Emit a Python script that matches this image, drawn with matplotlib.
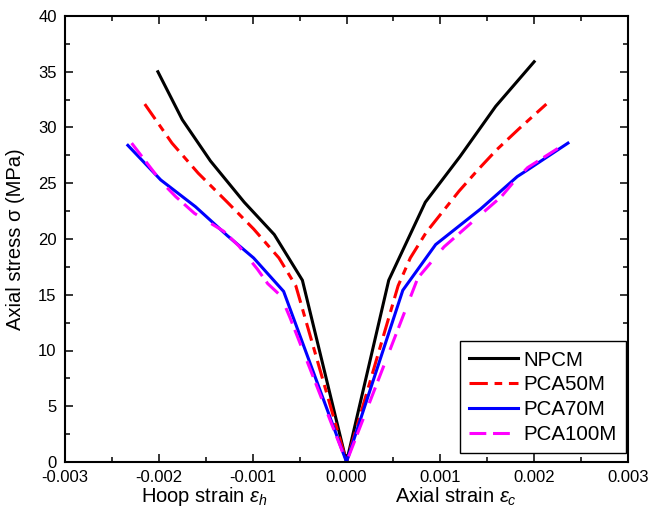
import matplotlib
matplotlib.use("Agg")
import matplotlib.pyplot as plt
from matplotlib.ticker import MultipleLocator, FixedFormatter, FixedLocator

plt.rcParams['font.family'] = ['Liberation Sans', 'DejaVu Sans']
plt.rcParams['mathtext.fontset'] = 'custom'
plt.rcParams['mathtext.rm'] = 'Liberation Sans'
plt.rcParams['mathtext.it'] = 'Liberation Sans:italic'

series = ['NPCM', 'PCA50M', 'PCA70M', 'PCA100M']
colors = ['black', 'red', 'blue', 'magenta']

# hoop strain (left branch) and axial strain (right branch), stress in MPa
npcm_hoop_strain = [-0.00201, -0.00175, -0.00145, -0.00109, -0.00077, -0.00047, 0.0]
npcm_hoop_stress = [35.0, 30.7, 27.0, 23.3, 20.4, 16.3, 0.0]
npcm_axial_strain = [0.0, 0.00045, 0.00084, 0.00121, 0.00159, 0.0020]
npcm_axial_stress = [0.0, 16.3, 23.3, 27.4, 31.9, 35.9]

p50_hoop_strain = [-0.00215, -0.00186, -0.00158, -0.00127, -0.00099, -0.00072, -0.00054, 0.0]
p50_hoop_stress = [32.1, 28.6, 25.9, 23.3, 20.9, 18.3, 15.8, 0.0]
p50_axial_strain = [0.0, 0.00055, 0.00068, 0.00085, 0.00102, 0.0012, 0.0014, 0.0016, 0.00184, 0.00213]
p50_axial_stress = [0.0, 15.8, 18.3, 20.6, 22.4, 24.3, 26.2, 28.0, 29.9, 32.1]

p70_hoop_strain = [-0.00233, -0.00198, -0.00161, -0.00127, -0.00099, -0.00067, 0.0]
p70_hoop_stress = [28.4, 25.3, 22.9, 20.3, 18.3, 15.3, 0.0]
p70_axial_strain = [0.0, 0.0006, 0.00095, 0.00143, 0.00182, 0.00193, 0.00236]
p70_axial_stress = [0.0, 15.4, 19.5, 22.7, 25.6, 26.2, 28.6]

p100_hoop_strain = [-0.00229, -0.00197, -0.00182, -0.00162, -0.00131, -0.00115, -0.00095, -0.00084, -0.0007, -0.0006, 0.0]
p100_hoop_stress = [28.6, 25.1, 23.8, 22.3, 20.7, 19.4, 17.3, 16.0, 14.9, 12.9, 0.0]
p100_axial_strain = [0.0, 0.00076, 0.00104, 0.00131, 0.00165, 0.00178, 0.00193, 0.00236]
p100_axial_stress = [0.0, 16.5, 19.3, 21.3, 23.8, 25.1, 26.4, 28.7]

hoop_x = [npcm_hoop_strain, p50_hoop_strain, p70_hoop_strain, p100_hoop_strain]
hoop_y = [npcm_hoop_stress, p50_hoop_stress, p70_hoop_stress, p100_hoop_stress]
ax_x = [npcm_axial_strain, p50_axial_strain, p70_axial_strain, p100_axial_strain]
ax_y = [npcm_axial_stress, p50_axial_stress, p70_axial_stress, p100_axial_stress]

xticks = [-0.003, -0.002, -0.001, 0.0, 0.001, 0.002, 0.003]
xticklabels = ['-0.003', '-0.002', '-0.001', '0.000', '0.001', '0.002', '0.003']
yticks = [0, 5, 10, 15, 20, 25, 30, 35, 40]

fig = plt.figure(figsize=(6.48, 5.17), dpi=100)
ax = fig.add_axes([65/648, 1-462/517, (628-65)/648, (462-16)/517])

dash_styles = ['-', (0, (6, 2.2, 2.5, 2.2)), '-', (0, (5.5, 2.2, 5.5, 5.5))]
for i, name in enumerate(series):
    xs = list(hoop_x[i]) + list(ax_x[i][1:])
    ys = list(hoop_y[i]) + list(ax_y[i][1:])
    ax.plot(xs, ys, color=colors[i], lw=2.2, linestyle=dash_styles[i], label=name,
            solid_joinstyle='miter')

ax.set_xlim(-0.003, 0.003)
ax.set_ylim(0, 40)
ax.xaxis.set_major_locator(FixedLocator(xticks))
ax.xaxis.set_major_formatter(FixedFormatter(xticklabels))
ax.xaxis.set_minor_locator(MultipleLocator(0.0005))
ax.yaxis.set_major_locator(FixedLocator(yticks))
ax.yaxis.set_minor_locator(MultipleLocator(2.5))
ax.tick_params(which='both', direction='in', top=True, right=True, labelsize=12, width=1.1)
ax.tick_params(which='major', length=6, pad=6)
ax.tick_params(which='minor', length=3.5)
for s in ax.spines.values():
    s.set_linewidth(1.5)

fig.text(204/648, 1-497/517, r'Hoop strain $\varepsilon_h$', fontsize=14.5, ha='center', va='center')
fig.text(456/648, 1-497/517, r'Axial strain $\varepsilon_c$', fontsize=14.5, ha='center', va='center')
fig.text(16/648, 1-239/517, 'Axial stress σ (MPa)', fontsize=14.5, ha='center', va='center', rotation=90)

leg = ax.legend(loc='lower right', bbox_to_anchor=(0.9965, 0.02), borderaxespad=0,
                fontsize=14.8, handlelength=2.4, handletextpad=0.25, labelspacing=0.28,
                fancybox=False, edgecolor='black', framealpha=1, borderpad=0.45)
leg.get_frame().set_linewidth(1.0)

fig.savefig('out.png', dpi=100)
